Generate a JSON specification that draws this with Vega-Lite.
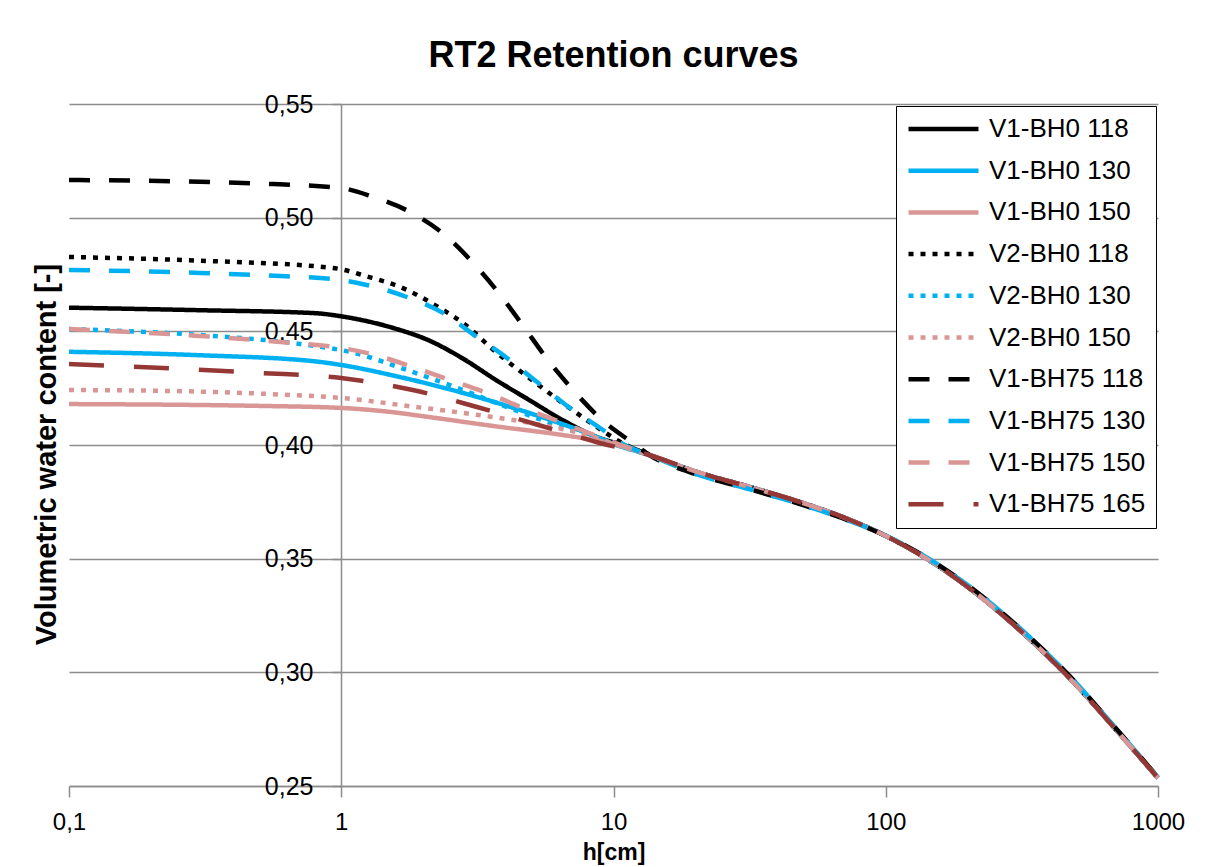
{
  "$schema": "https://vega.github.io/schema/vega-lite/v6.json",
  "width": 1089,
  "height": 682,
  "autosize": {"type": "none"},
  "padding": {"left": 69, "top": 104, "right": 55, "bottom": 81},
  "background": "white",
  "title": {"text": "RT2 Retention curves", "font": "Liberation Sans", "fontSize": 36, "fontWeight": "bold", "color": "black", "anchor": "middle", "frame": "group", "baseline": "alphabetic", "offset": -11},
  "config": {"view": {"stroke": null}, "font": "Liberation Sans"},
  "data": {"values": [
    {"s":"V1-BH0 118","h":0.1,"v":0.4604},{"s":"V1-BH0 118","h":0.3,"v":0.4593},{"s":"V1-BH0 118","h":0.8,"v":0.458},{"s":"V1-BH0 118","h":1.0,"v":0.4566},{"s":"V1-BH0 118","h":1.25,"v":0.4544},{"s":"V1-BH0 118","h":1.6,"v":0.451},{"s":"V1-BH0 118","h":2.1,"v":0.446},{"s":"V1-BH0 118","h":2.8,"v":0.438},{"s":"V1-BH0 118","h":3.7,"v":0.4286},{"s":"V1-BH0 118","h":4.9,"v":0.4198},{"s":"V1-BH0 118","h":6.5,"v":0.411},{"s":"V1-BH0 118","h":8.7,"v":0.4035},{"s":"V1-BH0 118","h":11.5,"v":0.399},
    {"s":"V1-BH0 118","h":13.6,"v":0.3955},{"s":"V1-BH0 118","h":20.8,"v":0.3877},{"s":"V1-BH0 118","h":31.7,"v":0.3815},{"s":"V1-BH0 118","h":48.4,"v":0.3749},{"s":"V1-BH0 118","h":74,"v":0.367},{"s":"V1-BH0 118","h":95,"v":0.3613},{"s":"V1-BH0 118","h":137,"v":0.351},{"s":"V1-BH0 118","h":204,"v":0.3368},{"s":"V1-BH0 118","h":311,"v":0.3185},{"s":"V1-BH0 118","h":475,"v":0.2973},{"s":"V1-BH0 118","h":684,"v":0.2762},{"s":"V1-BH0 118","h":1000,"v":0.2535},

    {"s":"V1-BH0 130","h":0.1,"v":0.441},{"s":"V1-BH0 130","h":0.3,"v":0.4395},{"s":"V1-BH0 130","h":0.8,"v":0.4368},{"s":"V1-BH0 130","h":1.0,"v":0.4352},{"s":"V1-BH0 130","h":1.6,"v":0.4302},{"s":"V1-BH0 130","h":2.8,"v":0.4229},{"s":"V1-BH0 130","h":4.9,"v":0.4141},{"s":"V1-BH0 130","h":8.7,"v":0.4035},{"s":"V1-BH0 130","h":10,"v":0.4005},
    {"s":"V1-BH0 130","h":13.6,"v":0.3955},{"s":"V1-BH0 130","h":20.8,"v":0.3877},{"s":"V1-BH0 130","h":31.7,"v":0.3815},{"s":"V1-BH0 130","h":48.4,"v":0.3749},{"s":"V1-BH0 130","h":74,"v":0.367},{"s":"V1-BH0 130","h":95,"v":0.3613},{"s":"V1-BH0 130","h":137,"v":0.351},{"s":"V1-BH0 130","h":204,"v":0.3368},{"s":"V1-BH0 130","h":311,"v":0.3185},{"s":"V1-BH0 130","h":475,"v":0.2973},{"s":"V1-BH0 130","h":684,"v":0.2762},{"s":"V1-BH0 130","h":1000,"v":0.2535},

    {"s":"V1-BH0 150","h":0.1,"v":0.418},{"s":"V1-BH0 150","h":0.5,"v":0.4172},{"s":"V1-BH0 150","h":1.0,"v":0.4163},{"s":"V1-BH0 150","h":1.5,"v":0.4146},{"s":"V1-BH0 150","h":2.1,"v":0.4123},{"s":"V1-BH0 150","h":3.7,"v":0.4082},{"s":"V1-BH0 150","h":6.5,"v":0.4044},{"s":"V1-BH0 150","h":10,"v":0.4005},
    {"s":"V1-BH0 150","h":13.6,"v":0.3955},{"s":"V1-BH0 150","h":20.8,"v":0.3877},{"s":"V1-BH0 150","h":31.7,"v":0.3815},{"s":"V1-BH0 150","h":48.4,"v":0.3749},{"s":"V1-BH0 150","h":74,"v":0.367},{"s":"V1-BH0 150","h":95,"v":0.3613},{"s":"V1-BH0 150","h":137,"v":0.351},{"s":"V1-BH0 150","h":204,"v":0.3368},{"s":"V1-BH0 150","h":311,"v":0.3185},{"s":"V1-BH0 150","h":475,"v":0.2973},{"s":"V1-BH0 150","h":684,"v":0.2762},{"s":"V1-BH0 150","h":1000,"v":0.2535},

    {"s":"V2-BH0 118","h":0.1,"v":0.4827},{"s":"V2-BH0 118","h":0.3,"v":0.4811},{"s":"V2-BH0 118","h":0.93,"v":0.4779},{"s":"V2-BH0 118","h":1.24,"v":0.4742},{"s":"V2-BH0 118","h":1.7,"v":0.4688},{"s":"V2-BH0 118","h":2.3,"v":0.4603},{"s":"V2-BH0 118","h":2.8,"v":0.4537},{"s":"V2-BH0 118","h":3.7,"v":0.4409},{"s":"V2-BH0 118","h":4.9,"v":0.4295},{"s":"V2-BH0 118","h":6.5,"v":0.4185},{"s":"V2-BH0 118","h":8.7,"v":0.4079},{"s":"V2-BH0 118","h":10.6,"v":0.4013},
    {"s":"V2-BH0 118","h":13.6,"v":0.3955},{"s":"V2-BH0 118","h":20.8,"v":0.3877},{"s":"V2-BH0 118","h":31.7,"v":0.3815},{"s":"V2-BH0 118","h":48.4,"v":0.3749},{"s":"V2-BH0 118","h":74,"v":0.367},{"s":"V2-BH0 118","h":95,"v":0.3613},{"s":"V2-BH0 118","h":137,"v":0.351},{"s":"V2-BH0 118","h":204,"v":0.3368},{"s":"V2-BH0 118","h":311,"v":0.3185},{"s":"V2-BH0 118","h":475,"v":0.2973},{"s":"V2-BH0 118","h":684,"v":0.2762},{"s":"V2-BH0 118","h":1000,"v":0.2535},

    {"s":"V2-BH0 130","h":0.1,"v":0.451},{"s":"V2-BH0 130","h":0.3,"v":0.4484},{"s":"V2-BH0 130","h":0.75,"v":0.444},{"s":"V2-BH0 130","h":1.1,"v":0.4407},{"s":"V2-BH0 130","h":1.74,"v":0.433},{"s":"V2-BH0 130","h":2.8,"v":0.4242},{"s":"V2-BH0 130","h":4.06,"v":0.4167},{"s":"V2-BH0 130","h":6.5,"v":0.4079},{"s":"V2-BH0 130","h":8.7,"v":0.4035},{"s":"V2-BH0 130","h":10,"v":0.4005},
    {"s":"V2-BH0 130","h":13.6,"v":0.3955},{"s":"V2-BH0 130","h":20.8,"v":0.3877},{"s":"V2-BH0 130","h":31.7,"v":0.3815},{"s":"V2-BH0 130","h":48.4,"v":0.3749},{"s":"V2-BH0 130","h":74,"v":0.367},{"s":"V2-BH0 130","h":95,"v":0.3613},{"s":"V2-BH0 130","h":137,"v":0.351},{"s":"V2-BH0 130","h":204,"v":0.3368},{"s":"V2-BH0 130","h":311,"v":0.3185},{"s":"V2-BH0 130","h":475,"v":0.2973},{"s":"V2-BH0 130","h":684,"v":0.2762},{"s":"V2-BH0 130","h":1000,"v":0.2535},

    {"s":"V2-BH0 150","h":0.1,"v":0.4242},{"s":"V2-BH0 150","h":0.3,"v":0.4235},{"s":"V2-BH0 150","h":0.6,"v":0.4222},{"s":"V2-BH0 150","h":1.0,"v":0.4207},{"s":"V2-BH0 150","h":1.83,"v":0.4169},{"s":"V2-BH0 150","h":2.8,"v":0.4141},{"s":"V2-BH0 150","h":4.93,"v":0.4097},{"s":"V2-BH0 150","h":8.7,"v":0.4031},{"s":"V2-BH0 150","h":10,"v":0.4005},
    {"s":"V2-BH0 150","h":13.6,"v":0.3955},{"s":"V2-BH0 150","h":20.8,"v":0.3877},{"s":"V2-BH0 150","h":31.7,"v":0.3815},{"s":"V2-BH0 150","h":48.4,"v":0.3749},{"s":"V2-BH0 150","h":74,"v":0.367},{"s":"V2-BH0 150","h":95,"v":0.3613},{"s":"V2-BH0 150","h":137,"v":0.351},{"s":"V2-BH0 150","h":204,"v":0.3368},{"s":"V2-BH0 150","h":311,"v":0.3185},{"s":"V2-BH0 150","h":475,"v":0.2973},{"s":"V2-BH0 150","h":684,"v":0.2762},{"s":"V2-BH0 150","h":1000,"v":0.2535},

    {"s":"V1-BH75 118","h":0.1,"v":0.5166},{"s":"V1-BH75 118","h":0.5,"v":0.515},{"s":"V1-BH75 118","h":1.0,"v":0.513},{"s":"V1-BH75 118","h":1.31,"v":0.5091},{"s":"V1-BH75 118","h":1.79,"v":0.5025},{"s":"V1-BH75 118","h":2.4,"v":0.4924},{"s":"V1-BH75 118","h":3.05,"v":0.4801},{"s":"V1-BH75 118","h":3.77,"v":0.4672},{"s":"V1-BH75 118","h":4.65,"v":0.4525},{"s":"V1-BH75 118","h":5.74,"v":0.4374},{"s":"V1-BH75 118","h":7.1,"v":0.4242},{"s":"V1-BH75 118","h":9.08,"v":0.411},{"s":"V1-BH75 118","h":11.8,"v":0.4008},
    {"s":"V1-BH75 118","h":13.6,"v":0.3955},{"s":"V1-BH75 118","h":20.8,"v":0.3866},{"s":"V1-BH75 118","h":31.7,"v":0.3805},{"s":"V1-BH75 118","h":48.4,"v":0.374},{"s":"V1-BH75 118","h":74,"v":0.3665},{"s":"V1-BH75 118","h":95,"v":0.3613},{"s":"V1-BH75 118","h":137,"v":0.3515},{"s":"V1-BH75 118","h":204,"v":0.3376},{"s":"V1-BH75 118","h":311,"v":0.3194},{"s":"V1-BH75 118","h":475,"v":0.2982},{"s":"V1-BH75 118","h":684,"v":0.2768},{"s":"V1-BH75 118","h":1000,"v":0.2538},

    {"s":"V1-BH75 130","h":0.1,"v":0.477},{"s":"V1-BH75 130","h":0.3,"v":0.4757},{"s":"V1-BH75 130","h":0.6,"v":0.4743},{"s":"V1-BH75 130","h":0.93,"v":0.473},{"s":"V1-BH75 130","h":1.24,"v":0.4704},{"s":"V1-BH75 130","h":1.74,"v":0.4651},{"s":"V1-BH75 130","h":2.37,"v":0.458},{"s":"V1-BH75 130","h":3.15,"v":0.4475},{"s":"V1-BH75 130","h":4.06,"v":0.4383},{"s":"V1-BH75 130","h":5.24,"v":0.4277},{"s":"V1-BH75 130","h":6.92,"v":0.4163},{"s":"V1-BH75 130","h":9.15,"v":0.4066},{"s":"V1-BH75 130","h":11,"v":0.4},
    {"s":"V1-BH75 130","h":13.6,"v":0.3955},{"s":"V1-BH75 130","h":20.8,"v":0.3866},{"s":"V1-BH75 130","h":31.7,"v":0.3805},{"s":"V1-BH75 130","h":48.4,"v":0.374},{"s":"V1-BH75 130","h":74,"v":0.3665},{"s":"V1-BH75 130","h":95,"v":0.3613},{"s":"V1-BH75 130","h":137,"v":0.3515},{"s":"V1-BH75 130","h":204,"v":0.3376},{"s":"V1-BH75 130","h":311,"v":0.3194},{"s":"V1-BH75 130","h":475,"v":0.2982},{"s":"V1-BH75 130","h":684,"v":0.2768},{"s":"V1-BH75 130","h":1000,"v":0.2538},

    {"s":"V1-BH75 150","h":0.1,"v":0.451},{"s":"V1-BH75 150","h":0.3,"v":0.448},{"s":"V1-BH75 150","h":0.6,"v":0.4453},{"s":"V1-BH75 150","h":1.0,"v":0.4427},{"s":"V1-BH75 150","h":1.31,"v":0.4398},{"s":"V1-BH75 150","h":1.83,"v":0.4343},{"s":"V1-BH75 150","h":2.51,"v":0.4286},{"s":"V1-BH75 150","h":3.43,"v":0.4229},{"s":"V1-BH75 150","h":4.65,"v":0.4163},{"s":"V1-BH75 150","h":6.52,"v":0.4097},{"s":"V1-BH75 150","h":9.46,"v":0.4022},
    {"s":"V1-BH75 150","h":13.6,"v":0.3955},{"s":"V1-BH75 150","h":20.8,"v":0.3877},{"s":"V1-BH75 150","h":31.7,"v":0.3815},{"s":"V1-BH75 150","h":48.4,"v":0.3749},{"s":"V1-BH75 150","h":74,"v":0.367},{"s":"V1-BH75 150","h":95,"v":0.3613},{"s":"V1-BH75 150","h":137,"v":0.351},{"s":"V1-BH75 150","h":204,"v":0.3368},{"s":"V1-BH75 150","h":311,"v":0.3185},{"s":"V1-BH75 150","h":475,"v":0.2973},{"s":"V1-BH75 150","h":684,"v":0.2762},{"s":"V1-BH75 150","h":1000,"v":0.2535},

    {"s":"V1-BH75 165","h":0.1,"v":0.4356},{"s":"V1-BH75 165","h":0.5,"v":0.4317},{"s":"V1-BH75 165","h":1.0,"v":0.4295},{"s":"V1-BH75 165","h":1.83,"v":0.4242},{"s":"V1-BH75 165","h":3.15,"v":0.4167},{"s":"V1-BH75 165","h":5.3,"v":0.4088},{"s":"V1-BH75 165","h":8.9,"v":0.4009},
    {"s":"V1-BH75 165","h":13.6,"v":0.3955},{"s":"V1-BH75 165","h":20.8,"v":0.3877},{"s":"V1-BH75 165","h":31.7,"v":0.3815},{"s":"V1-BH75 165","h":48.4,"v":0.3749},{"s":"V1-BH75 165","h":74,"v":0.367},{"s":"V1-BH75 165","h":95,"v":0.3613},{"s":"V1-BH75 165","h":137,"v":0.351},{"s":"V1-BH75 165","h":204,"v":0.3368},{"s":"V1-BH75 165","h":311,"v":0.3185},{"s":"V1-BH75 165","h":475,"v":0.2973},{"s":"V1-BH75 165","h":684,"v":0.2762},{"s":"V1-BH75 165","h":1000,"v":0.2535}
  ]},
  "encoding": {
    "x": {"field": "h", "type": "quantitative",
      "scale": {"type": "log", "domain": [0.1, 1000]},
      "axis": {"values": [0.1, 1, 10, 100, 1000], "labelExpr": "replace(toString(datum.value), '.', ',')", "grid": false,
        "domainColor": "#8c8c8c", "domainWidth": 1.5, "tickColor": "#8c8c8c", "tickSize": 11, "tickWidth": 1.5,
        "labelFont": "Liberation Sans", "labelFontSize": 24, "labelColor": "black", "labelPadding": 13, "labelFlush": false, "labelOverlap": false,
        "title": "h[cm]", "titleFont": "Liberation Sans", "titleFontSize": 23, "titleFontWeight": "bold", "titleColor": "black", "titlePadding": 7}},
    "y": {"field": "v", "type": "quantitative",
      "scale": {"domain": [0.25, 0.55], "zero": false, "nice": false},
      "axis": {"values": [0.25, 0.3, 0.35, 0.4, 0.45, 0.5, 0.55], "labelExpr": "replace(format(datum.value, '.2f'), '.', ',')",
        "offset": -272, "grid": true, "gridColor": "#8c8c8c", "gridWidth": 1.5,
        "domainColor": "#8c8c8c", "domainWidth": 1.5, "tickColor": "#8c8c8c", "tickSize": 9, "tickWidth": 1.5,
        "labelFont": "Liberation Sans", "labelFontSize": 25, "labelColor": "black", "labelPadding": 19, "labelFlush": false,
        "title": "Volumetric water content [-]", "titleFont": "Liberation Sans", "titleFontSize": 29, "titleFontWeight": "bold", "titleColor": "black",
        "titleX": -295, "titleY": 350, "titleAngle": 270, "titleBaseline": "middle", "titleAlign": "center"}},
    "color": {"field": "s", "type": "nominal",
      "scale": {"domain": ["V1-BH0 118","V1-BH0 130","V1-BH0 150","V2-BH0 118","V2-BH0 130","V2-BH0 150","V1-BH75 118","V1-BH75 130","V1-BH75 150","V1-BH75 165"],
        "range": ["#000000","#00B0F0","#D99694","#000000","#00B0F0","#D99694","#000000","#00B0F0","#D99694","#953735"]},
      "legend": {"title": null, "orient": "none", "legendX": 827, "legendY": 2, "direction": "vertical",
        "symbolType": "stroke", "symbolSize": 4900, "clipHeight": 26, "labelFont": "Liberation Sans", "labelFontSize": 26, "labelColor": "black",
        "padding": 10, "rowPadding": 15.7, "labelOffset": 8, "strokeColor": "black", "fillColor": "white", "cornerRadius": 0}},
    "strokeDash": {"field": "s", "type": "nominal",
      "scale": {"domain": ["V1-BH0 118","V1-BH0 130","V1-BH0 150","V2-BH0 118","V2-BH0 130","V2-BH0 150","V1-BH75 118","V1-BH75 130","V1-BH75 150","V1-BH75 165"],
        "range": [[1,0],[1,0],[1,0],[5,7],[5,7],[5,7],[21,19],[21,19],[21,19],[35,30]]}},
    "strokeWidth": {"field": "s", "type": "nominal",
      "scale": {"domain": ["V1-BH0 118","V1-BH0 130","V1-BH0 150","V2-BH0 118","V2-BH0 130","V2-BH0 150","V1-BH75 118","V1-BH75 130","V1-BH75 150","V1-BH75 165"],
        "range": [4.5,4.5,4.5,5,5,5,4.5,4.5,4.5,7.5]}}
  },
  "layer": [
    {"transform": [{"filter": "datum.s != 'V1-BH75 165'"}],
     "mark": {"type": "line", "interpolate": "monotone", "strokeCap": "butt", "strokeJoin": "round"}},
    {"transform": [{"filter": "datum.s == 'V1-BH75 165'"}],
     "mark": {"type": "line", "interpolate": "monotone", "strokeCap": "butt", "strokeJoin": "round"}}
  ]
}
